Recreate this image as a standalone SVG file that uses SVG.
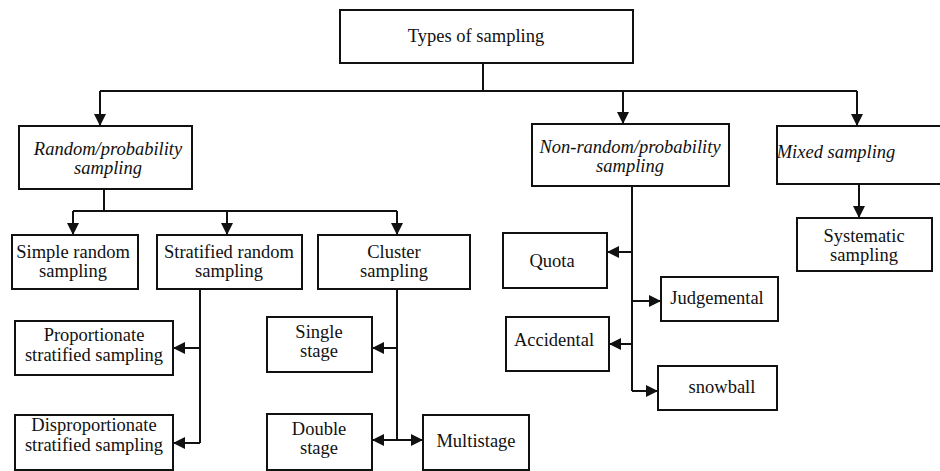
<svg xmlns="http://www.w3.org/2000/svg" width="940" height="471" viewBox="0 0 940 471">
<defs>
<marker id="arr" viewBox="0 0 12 12" refX="12" refY="6" markerWidth="12" markerHeight="12" markerUnits="userSpaceOnUse" orient="auto">
<path d="M0,0 L12,6 L0,12 z" fill="#111"/>
</marker>
<style>
.box{fill:#fff;stroke:#111;stroke-width:2}
.t{font-family:"Liberation Serif","Times New Roman",serif;font-size:18.5px;fill:#111;text-anchor:middle}
.i{font-style:italic}
.c{fill:none;stroke:#111;stroke-width:2}
.a{fill:none;stroke:#111;stroke-width:2;marker-end:url(#arr)}
</style>
</defs>
<rect width="940" height="471" fill="#fff"/>
<g id="connectors">
<path class="c" d="M483 63 V91 M100 91 H857"/>
<path class="a" d="M100 91 V126"/>
<path class="a" d="M623 91 V124"/>
<path class="a" d="M857 91 V126"/>
<path class="c" d="M104 189 V211 M73 211 H397"/>
<path class="a" d="M73 211 V235"/>
<path class="a" d="M227 211 V235"/>
<path class="a" d="M397 211 V235"/>
<path class="c" d="M200 289 V443"/>
<path class="a" d="M200 348 H173"/>
<path class="a" d="M200 443 H173"/>
<path class="c" d="M397 289 V440"/>
<path class="a" d="M397 348 H372"/>
<path class="a" d="M397 440 H372"/>
<path class="a" d="M397 440 H423"/>
<path class="c" d="M632 186 V391"/>
<path class="a" d="M632 252 H607"/>
<path class="a" d="M632 301 H661"/>
<path class="a" d="M632 344 H609"/>
<path class="a" d="M632 391 H658"/>
<path class="a" d="M859 184 V218"/>
</g>
<g id="types">
<rect class="box" x="340" y="10" width="293" height="53"/>
<text class="t" x="476" y="42">Types of sampling</text>
</g>
<g id="random">
<rect class="box" x="19" y="126" width="173" height="63"/>
<text class="t i" x="108" y="155">Random/probability</text>
<text class="t i" x="108" y="174">sampling</text>
</g>
<g id="nonrandom">
<rect class="box" x="532" y="124" width="197" height="62"/>
<text class="t i" x="630" y="153">Non-random/probability</text>
<text class="t i" x="630" y="172">sampling</text>
</g>
<g id="mixed">
<rect class="box" x="777" y="126" width="175" height="58"/>
<text class="t i" x="836" y="158">Mixed sampling</text>
</g>
<g id="simple">
<rect class="box" x="12" y="235" width="126" height="54"/>
<text class="t" x="73" y="258">Simple random</text>
<text class="t" x="73" y="277">sampling</text>
</g>
<g id="stratified">
<rect class="box" x="157" y="235" width="145" height="54"/>
<text class="t" x="229" y="258">Stratified random</text>
<text class="t" x="229" y="277">sampling</text>
</g>
<g id="cluster">
<rect class="box" x="318" y="235" width="152" height="54"/>
<text class="t" x="394" y="258">Cluster</text>
<text class="t" x="394" y="277">sampling</text>
</g>
<g id="proportionate">
<rect class="box" x="15" y="321" width="158" height="54"/>
<text class="t" x="94" y="341">Proportionate</text>
<text class="t" x="94" y="361">stratified sampling</text>
</g>
<g id="disproportionate">
<rect class="box" x="15" y="415" width="158" height="55"/>
<text class="t" x="94" y="431">Disproportionate</text>
<text class="t" x="94" y="451">stratified sampling</text>
</g>
<g id="single">
<rect class="box" x="267" y="317" width="105" height="55"/>
<text class="t" x="319" y="338">Single</text>
<text class="t" x="319" y="357">stage</text>
</g>
<g id="double">
<rect class="box" x="267" y="414" width="105" height="56"/>
<text class="t" x="319" y="435">Double</text>
<text class="t" x="319" y="454">stage</text>
</g>
<g id="multistage">
<rect class="box" x="423" y="415" width="106" height="55"/>
<text class="t" x="476" y="447">Multistage</text>
</g>
<g id="quota">
<rect class="box" x="503" y="233" width="104" height="55"/>
<text class="t" x="552" y="267">Quota</text>
</g>
<g id="judgemental">
<rect class="box" x="661" y="277" width="117" height="44"/>
<text class="t" x="717" y="304">Judgemental</text>
</g>
<g id="accidental">
<rect class="box" x="506" y="317" width="103" height="54"/>
<text class="t" x="554" y="346">Accidental</text>
</g>
<g id="snowball">
<rect class="box" x="658" y="366" width="119" height="44"/>
<text class="t" x="722" y="393">snowball</text>
</g>
<g id="systematic">
<rect class="box" x="797" y="218" width="135" height="53"/>
<text class="t" x="864" y="242">Systematic</text>
<text class="t" x="864" y="261">sampling</text>
</g>
</svg>
